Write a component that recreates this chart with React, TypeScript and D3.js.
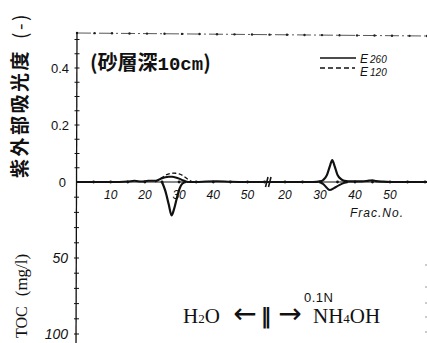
import React from "react";
import * as d3 from "d3";

// Section A: H2O elution (frac 0..56), Section B: 0.1N NH4OH elution (frac 15..61)
const fracA = [0, 5, 10, 15, 17, 19, 21, 23, 24, 25, 26, 27, 28, 29, 30, 31, 32, 33, 35, 38, 41, 45, 50, 56];
const e260A = [0, 0, 0, 0.002, 0.004, 0.002, 0.004, 0.004, 0.008, 0.013, 0.017, 0.018, 0.018, 0.016, 0.012, 0.006, 0.002, 0, 0, 0.002, 0.003, 0.001, 0, 0];
const fracA220 = [23, 24, 25, 26, 27, 28, 29, 30, 31, 32, 33, 34];
const e220A = [0, 0.006, 0.016, 0.024, 0.029, 0.031, 0.031, 0.029, 0.024, 0.015, 0.005, 0];
const fracAtoc = [25, 26, 27, 27.8, 28.5, 29.3, 30.2, 31, 32];
const tocA = [0, 6, 15, 22, 18, 11, 4, 1, 0];

const fracB = [15, 20, 25, 28, 30, 31, 32, 32.8, 33.5, 34.2, 35, 36, 37, 39, 42, 44, 45, 46, 48, 50, 61];
const e260B = [0, 0, 0, 0, 0.002, 0.008, 0.025, 0.055, 0.077, 0.055, 0.025, 0.01, 0.004, 0.002, 0.002, 0.005, 0.006, 0.003, 0.001, 0, 0];
const fracBtoc = [30, 31, 32, 32.8, 34, 35.5, 37, 38];
const tocB = [0, 1.5, 4, 5.3, 4, 2, 0.5, 0];

const xLabelsA = [10, 20, 30, 40, 50];
const xLabelsB = [20, 30, 40, 50];
const absTicks = [0, 0.2, 0.4];
const tocTicks = [50, 100];

export default function App() {
  const W = 427, H = 343;
  const y0 = 182;
  const xA = d3.scaleLinear().domain([0, 56]).range([76.5, 268]);
  const xB = d3.scaleLinear().domain([15, 61]).range([267.5, 428.5]);
  const yAbs = d3.scaleLinear().domain([0, 0.5]).range([y0, y0 - 142.5]);
  const yToc = d3.scaleLinear().domain([0, 100]).range([y0, y0 + 152]);

  const lineAbsA = d3.line<number>().x((_, i) => xA(fracA[i])).y((d) => yAbs(d)).curve(d3.curveMonotoneX);
  const lineAbsA220 = d3.line<number>().x((_, i) => xA(fracA220[i])).y((d) => yAbs(d)).curve(d3.curveBasis);
  const lineTocA = d3.line<number>().x((_, i) => xA(fracAtoc[i])).y((d) => yToc(d)).curve(d3.curveMonotoneX);
  const lineAbsB = d3.line<number>().x((_, i) => xB(fracB[i])).y((d) => yAbs(d)).curve(d3.curveMonotoneX);
  const lineTocB = d3.line<number>().x((_, i) => xB(fracBtoc[i])).y((d) => yToc(d)).curve(d3.curveMonotoneX);

  const minorA = d3.range(5, 56, 5);
  const minorB = d3.range(20, 61, 5);
  const absMinor = d3.range(0.05, 0.51, 0.05);
  const tocMinor = d3.range(10, 101, 10);
  const topTicks = d3.range(0, 24).map((i) => 77 + i * 17.5);

  const tickFont = "'Liberation Sans', 'DejaVu Sans', sans-serif";
  const serif = "'Liberation Serif', 'DejaVu Serif', serif";
  const ink = "#111";

  return (
    <svg width={W} height={H} style={{ position: "absolute", left: 0, top: 0, background: "#fff" }}>
      <rect x={0} y={0} width={W} height={H} fill="#fff" />
      {/* top frame (dash-dot) */}
      <line x1={77} y1={33} x2={427} y2={36} stroke="#444" strokeWidth={0.9} strokeDasharray="14 3 2 3" />
      {topTicks.map((x, i) => (
        <circle key={"tt" + i} cx={x} cy={33 + (x - 77) * 3 / 350} r={1.2} fill="#222" />
      ))}
      {/* left axis */}
      <line x1={77} y1={32} x2={76} y2={343} stroke={ink} strokeWidth={1.3} />
      {absMinor.map((v, i) => (
        <line key={"am" + i} x1={74.5} x2={79.5} y1={yAbs(v)} y2={yAbs(v)} stroke={ink} strokeWidth={1} />
      ))}
      {tocMinor.map((v, i) => (
        <line key={"tm" + i} x1={74} x2={79} y1={yToc(v)} y2={yToc(v)} stroke={ink} strokeWidth={1} />
      ))}
      {/* right edge faint axis */}
      {[265, 287, 303, 317, 332].map((y, i) => (
        <circle key={"re" + i} cx={426} cy={y} r={0.8} fill="#888" />
      ))}
      {/* zero / x axis */}
      <line x1={77} y1={y0} x2={427} y2={y0} stroke={ink} strokeWidth={1.2} />
      {minorA.map((f, i) => (
        <circle key={"ma" + i} cx={xA(f)} cy={y0} r={1.4} fill={ink} />
      ))}
      {minorB.map((f, i) => (
        <circle key={"mb" + i} cx={xB(f)} cy={y0} r={1.4} fill={ink} />
      ))}
      {/* axis break */}
      <line x1={265.5} y1={187} x2={268} y2={177} stroke={ink} strokeWidth={1.6} />
      <line x1={268.5} y1={187} x2={271} y2={177} stroke={ink} strokeWidth={1.6} />

      {/* y tick labels */}
      {absTicks.map((v) => (
        <text key={"at" + v} x={v === 0 ? 66 : 69} y={yAbs(v) + 4.5} textAnchor="end" fontFamily={tickFont} fontSize={13} fill={ink}>
          {v === 0 ? "0" : v.toFixed(1)}
        </text>
      ))}
      {tocTicks.map((v) => (
        <text key={"tc" + v} x={68} y={yToc(v) + 5} textAnchor="end" fontFamily={tickFont} fontSize={14} fontStyle="italic" fill={ink}>
          {v}
        </text>
      ))}
      {/* x tick labels */}
      {xLabelsA.map((v) => (
        <text key={"xa" + v} x={xA(v)} y={199} textAnchor="middle" fontFamily={tickFont} fontSize={12} fontStyle="italic" fill={ink}>
          {v}
        </text>
      ))}
      {xLabelsB.map((v) => (
        <text key={"xb" + v} x={xB(v)} y={199} textAnchor="middle" fontFamily={tickFont} fontSize={12} fontStyle="italic" fill={ink}>
          {v}
        </text>
      ))}
      <text x={350} y={217} fontFamily={tickFont} fontSize={12} fontStyle="italic" fill={ink} letterSpacing={1}>
        Frac.No.
      </text>

      {/* data */}
      <path d={lineAbsA(e260A) || ""} fill="none" stroke={ink} strokeWidth={2} />
      <path d={lineAbsA220(e220A) || ""} fill="none" stroke={ink} strokeWidth={1.3} strokeDasharray="4 2.5" />
      <path d={lineTocA(tocA) || ""} fill="none" stroke={ink} strokeWidth={2.2} />
      <path d={lineAbsB(e260B) || ""} fill="none" stroke={ink} strokeWidth={2.2} />
      <path d={lineTocB(tocB) || ""} fill="none" stroke={ink} strokeWidth={2} />

      {/* annotation */}
      <text x={90} y={70} fontSize={20} fontWeight="bold" fill={ink}>
        <tspan fontFamily="'Noto Sans CJK JP', sans-serif">(砂層深</tspan>
        <tspan fontFamily="'Liberation Mono', 'DejaVu Sans Mono', monospace" fontSize={19}>10cm</tspan>
        <tspan fontFamily="'Noto Sans CJK JP', sans-serif">)</tspan>
      </text>

      {/* legend */}
      <line x1={320} y1={58} x2={356} y2={58} stroke={ink} strokeWidth={1.3} />
      <text x={360} y={63} fontFamily={tickFont} fontSize={12} fontStyle="italic" fill={ink}>
        E<tspan fontSize={10} dx={2}>260</tspan>
      </text>
      <line x1={320} y1={68} x2={355} y2={68} stroke={ink} strokeWidth={1.3} strokeDasharray="5 3" />
      <text x={360} y={76} fontFamily={tickFont} fontSize={12} fontStyle="italic" fill={ink}>
        E<tspan fontSize={10} dx={2}>120</tspan>
      </text>

      {/* y axis titles */}
      <text transform="translate(27,178) rotate(-90)" fontFamily="'Noto Sans CJK JP', sans-serif" fontWeight="bold" fontSize={19} fill={ink} letterSpacing={2.5}>
        紫外部吸光度<tspan dx={10} fontWeight="normal">(-)</tspan>
      </text>
      <text transform="translate(27,338) rotate(-90)" fontFamily={serif} fontSize={16} fill={ink}>
        TOC<tspan dx={10} fontSize={17}>(mg/l)</tspan>
      </text>

      {/* elution annotation */}
      <text x={304} y={302} fontFamily={tickFont} fontSize={13} fill={ink} letterSpacing={0.5}>0.1N</text>
      <text x={183} y={323} fontFamily={serif} fontSize={21} fill={ink}>
        H<tspan fontSize={13}>2</tspan>O
      </text>
      <text x={245} y={323} textAnchor="middle" fontFamily="'DejaVu Sans', sans-serif" fontSize={28} fill={ink}>←</text>
      <text x={266} y={323} textAnchor="middle" fontFamily="'DejaVu Sans', sans-serif" fontWeight="bold" fontSize={21} fill={ink}>‖</text>
      <text x={290} y={323} textAnchor="middle" fontFamily="'DejaVu Sans', sans-serif" fontSize={28} fill={ink}>→</text>
      <text x={313} y={323} fontFamily={serif} fontSize={21} fill={ink}>
        NH<tspan fontSize={13}>4</tspan>OH
      </text>
    </svg>
  );
}
